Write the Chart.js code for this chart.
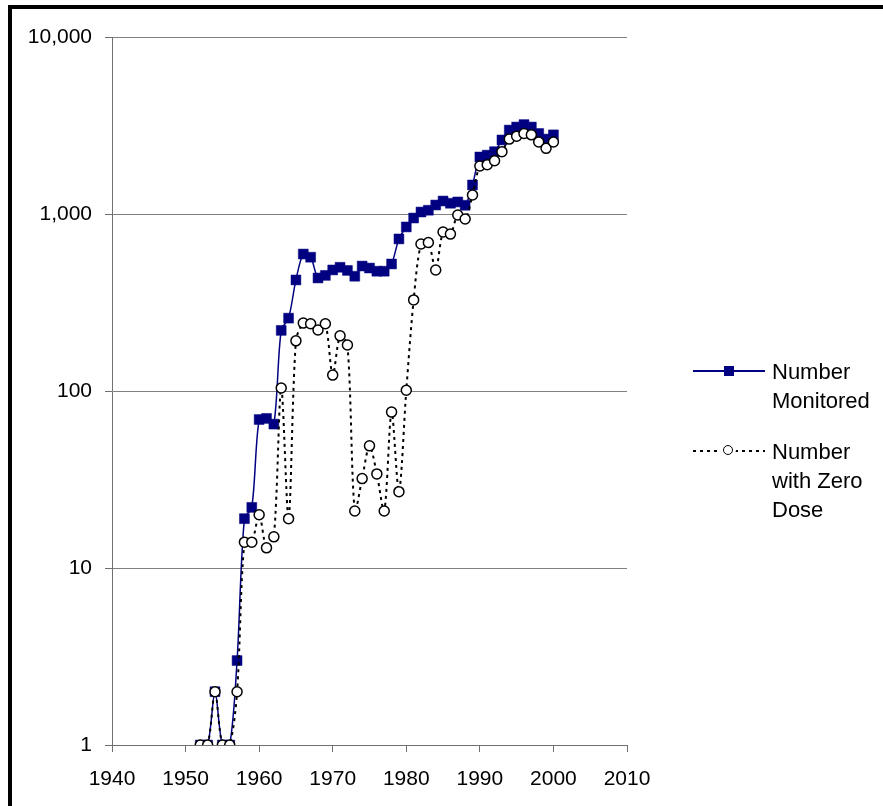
<!DOCTYPE html>
<html>
<head>
<meta charset="utf-8">
<script src="https://cdn.jsdelivr.net/npm/chart.js@4.4.0/dist/chart.umd.min.js"></script>
<style>
    html, body { margin: 0; padding: 0; background: #fff; }
    body { width: 883px; height: 806px; position: relative; overflow: hidden; font-family: "Liberation Sans", Arial, sans-serif; }
    #frameTop { position: absolute; left: 8px; top: 5px; width: 875px; height: 4px; background: #000; }
    #frameLeft { position: absolute; left: 8px; top: 5px; width: 4px; height: 801px; background: #000; }
    .legend-row { position: absolute; left: 693px; font-size: 22px; color: #000; line-height: 29px; }
    .legend-row .sample { position: absolute; left: 0; top: 14px; width: 72px; height: 2px; margin-top: -1px; }
    .legend-row .text { position: absolute; left: 79px; top: 0; white-space: nowrap; }
    .solid { background: #000080; }
    .dashed { background: repeating-linear-gradient(to right, #000 0, #000 3px, transparent 3px, transparent 7px); }
    .sq { position: absolute; left: 31px; top: -4px; width: 10px; height: 10px; background: #000080; }
    .circ { position: absolute; left: 30px; top: -5px; width: 8px; height: 8px; border: 1.5px solid #000; border-radius: 50%; background: #fff; box-shadow: 0 0 0 3px #fff; }
</style>
</head>
<body>
<canvas id="doseChart" width="883" height="806"></canvas>
<div id="frameTop"></div>
<div id="frameLeft"></div>

<div class="legend-row" style="top:357px;">
    <div class="sample solid"><div class="sq"></div></div>
    <div class="text">Number<br>Monitored</div>
</div>
<div class="legend-row" style="top:437px;">
    <div class="sample dashed"><div class="circ"></div></div>
    <div class="text">Number<br>with Zero<br>Dose</div>
</div>

<script>
// data
const years = [1952, 1953, 1954, 1955, 1956, 1957, 1958, 1959, 1960, 1961,
               1962, 1963, 1964, 1965, 1966, 1967, 1968, 1969, 1970, 1971,
               1972, 1973, 1974, 1975, 1976, 1977, 1978, 1979, 1980, 1981,
               1982, 1983, 1984, 1985, 1986, 1987, 1988, 1989, 1990, 1991,
               1992, 1993, 1994, 1995, 1996, 1997, 1998, 1999, 2000];

const monitored = [1, 1, 2, 1, 1, 3, 19, 22, 69, 70,
                   65, 220, 258, 424, 594, 570, 435, 450, 483, 500,
                   480, 445, 508, 495, 475, 475, 522, 723, 845, 949,
                   1026, 1050, 1124, 1184, 1150, 1170, 1120, 1459, 2100, 2150,
                   2250, 2620, 2980, 3100, 3200, 3100, 2850, 2650, 2800];

const zeroDose = [1, 1, 2, 1, 1, 2, 14, 14, 20, 13,
                  15, 104, 19, 192, 242, 240, 221, 240, 123, 205,
                  182, 21, 32, 49, 34, 21, 76, 27, 101, 327,
                  677, 690, 483, 791, 770, 987, 937, 1280, 1868, 1900,
                  2000, 2250, 2650, 2750, 2850, 2800, 2550, 2350, 2550];

const xTicks = [1940, 1950, 1960, 1970, 1980, 1990, 2000, 2010];
const yTicks = [1, 10, 100, 1000, 10000];

function toPoints(values) {
    return years.map((yr, i) => ({ x: yr, y: values[i] }));
}

const tickFont = { family: '"Liberation Sans", Arial, sans-serif', size: 21 };

const ctx = document.getElementById('doseChart').getContext('2d');
new Chart(ctx, {
    type: 'line',
    data: {
        datasets: [{
            label: 'Number Monitored',
            data: toPoints(monitored),
            borderColor: '#000080',
            backgroundColor: '#000080',
            borderWidth: 1.5,
            pointStyle: 'rect',
            pointRadius: 7,
            pointBackgroundColor: '#000080',
            pointBorderColor: '#000080',
            pointBorderWidth: 0.5,
            tension: 0.3,
            order: 2
        }, {
            label: 'Number with Zero Dose',
            data: toPoints(zeroDose),
            borderColor: '#000',
            borderWidth: 2,
            borderDash: [3, 4],
            pointStyle: 'circle',
            pointRadius: 5,
            pointBackgroundColor: '#fff',
            pointBorderColor: '#000',
            pointBorderWidth: 1.5,
            tension: 0.3,
            order: 1
        }]
    },
    options: {
        responsive: false,
        animation: false,
        devicePixelRatio: 1,
        layout: { padding: { left: 0, right: 256, top: 37, bottom: 0 } },
        plugins: {
            legend: { display: false },
            tooltip: { enabled: false }
        },
        scales: {
            x: {
                type: 'linear',
                min: 1940,
                max: 2010,
                afterBuildTicks: function(scale) {
                    scale.ticks = xTicks.map(v => ({ value: v }));
                },
                afterFit: function(scale) { scale.height = 61; },
                border: { color: '#707070', width: 1 },
                grid: { drawOnChartArea: false, drawTicks: true, tickLength: 7, tickColor: '#707070' },
                ticks: {
                    color: '#000',
                    font: tickFont,
                    padding: 15,
                    maxRotation: 0,
                    callback: function(value) { return String(value); }
                }
            },
            y: {
                type: 'logarithmic',
                min: 1,
                max: 10000,
                afterBuildTicks: function(scale) {
                    scale.ticks = yTicks.map(v => ({ value: v }));
                },
                afterFit: function(scale) { scale.width = 112; },
                border: { color: '#707070', width: 1 },
                grid: { color: '#808080', lineWidth: 1, drawTicks: true, tickLength: 7, tickColor: '#707070' },
                ticks: {
                    color: '#000',
                    font: tickFont,
                    padding: 13,
                    callback: function(value) { return Number(value).toLocaleString('en-US'); }
                }
            }
        }
    }
});
</script>
</body>
</html>
